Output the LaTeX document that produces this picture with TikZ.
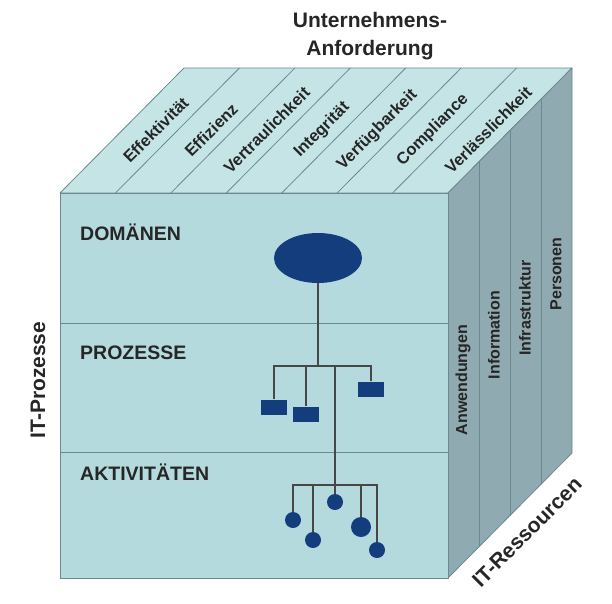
\documentclass[tikz,border=0pt]{standalone}
\usepackage{fontspec}
\setmainfont{Liberation Sans}
\usetikzlibrary{shapes.geometric, positioning, calc}

\definecolor{frontc}{HTML}{B4DADE}
\definecolor{topc}{HTML}{C4E4E6}
\definecolor{sidec}{HTML}{8FAAB0}
\definecolor{edgec}{HTML}{6A8A90}
\definecolor{navy}{HTML}{133D7C}
\definecolor{inkc}{HTML}{262626}

\begin{document}
\begin{tikzpicture}[
    x=1pt, y=-1pt,
    face/.style={draw=edgec, line width=0.8pt, line join=round},
    titlelbl/.style={text=inkc, align=center, font=\bfseries\fontsize{21}{28}\selectfont},
    axislbl/.style={text=inkc, font=\bfseries\fontsize{21}{24}\selectfont},
    levellbl/.style={text=inkc, anchor=west, inner sep=0pt, font=\bfseries\fontsize{19.5}{22}\selectfont},
    reqlbl/.style={text=inkc, rotate=45, inner sep=0pt, font=\bfseries\fontsize{16.5}{20}\selectfont},
    reslbl/.style={text=inkc, rotate=90, inner sep=0pt, font=\bfseries\fontsize{16}{20}\selectfont},
    dombox/.style={ellipse, fill=navy, minimum width=88pt, minimum height=50pt, inner sep=0pt},
    procbox/.style={rectangle, fill=navy, minimum width=26pt, minimum height=15pt, inner sep=0pt},
    actdot/.style={circle, fill=navy, minimum size=16pt, inner sep=0pt},
    treeline/.style={draw=inkc!85, line width=1.2pt}
  ]
  \useasboundingbox[fill=white] (0,0) rectangle (612,603);

  % Cube faces
  \filldraw[face, fill=topc] (60,193) -- (184,68) -- (572,68) -- (448,193) -- cycle;
  \filldraw[face, fill=sidec] (448,193) -- (572,68) -- (572,453) -- (448,578) -- cycle;
  \filldraw[face, fill=frontc] (60,193) rectangle (448,578);

  % Strips on top and side
  \foreach \i in {1,...,6}
    \draw[face] ({60+388*\i/7},193) -- ++(124,-125);
  \foreach \j in {1,2,3}
    \draw[face] ({448+124*\j/4},{193-125*\j/4}) -- ++(0,385);

  % Levels on the front
  \draw[face] (60,323) -- (448,323);
  \draw[face] (60,452) -- (448,452);

  % Labels
  \node[titlelbl] (goal) at (370,36) {Unternehmens-\\Anforderung};
  \node[axislbl, rotate=90] (itproc) at (38,380) {IT-Prozesse};
  \node[axislbl, rotate=45] (itres) at (527,532) {IT-Ressourcen};

  \foreach \t [count=\i from 0] in {Effektivität, Effizienz, Vertraulichkeit, Integrität, Verfügbarkeit, Compliance, Verlässlichkeit}
    \node[reqlbl] (req\i) at ({66+388*(\i+0.5)/7+62},130) {\t};

  \node[reslbl] (apps) at (463,380) {Anwendungen};
  \node[reslbl] (info) at (494,335) {Information};
  \node[reslbl] (infra) at (525,308) {Infrastruktur};
  \node[reslbl] (staff) at (556,274) {Personen};

  \node[levellbl] (dom) at (80,232) {DOMÄNEN};
  \node[levellbl] (prz) at (80,353) {PROZESSE};
  \node[levellbl] (akt) at (80,472) {AKTIVITÄTEN};

  % Hierarchy
  \node[dombox] (d1) at (318,258) {};
  \node[procbox] (p1) at (274,407) {};
  \node[procbox] (p2) at (306,414) {};
  \node[procbox] (p3) at (371,389) {};
  \node[actdot] (a1) at (293,520) {};
  \node[actdot] (a2) at (313,540) {};
  \node[actdot] (a3) at (335,502) {};
  \node[actdot, minimum size=20pt] (a4) at (361,527) {};
  \node[actdot] (a5) at (377,550) {};

  \coordinate (pbar) at (318,366);
  \coordinate (abar) at (335,485);

  \draw[treeline] (d1.south) -- (pbar);
  \draw[treeline] (p1.north) |- (pbar);
  \draw[treeline] (p3.north) |- (pbar);
  \draw[treeline] (p2.north) -- (p2 |- pbar);
  \draw[treeline] (abar |- pbar) -- (abar);
  \draw[treeline] (a1.north) |- (abar);
  \draw[treeline] (a5.north) |- (abar);
  \draw[treeline] (a2.north) -- (a2 |- abar);
  \draw[treeline] (a3.north) -- (a3 |- abar);
  \draw[treeline] (a4.north) -- (a4 |- abar);
\end{tikzpicture}
\end{document}
